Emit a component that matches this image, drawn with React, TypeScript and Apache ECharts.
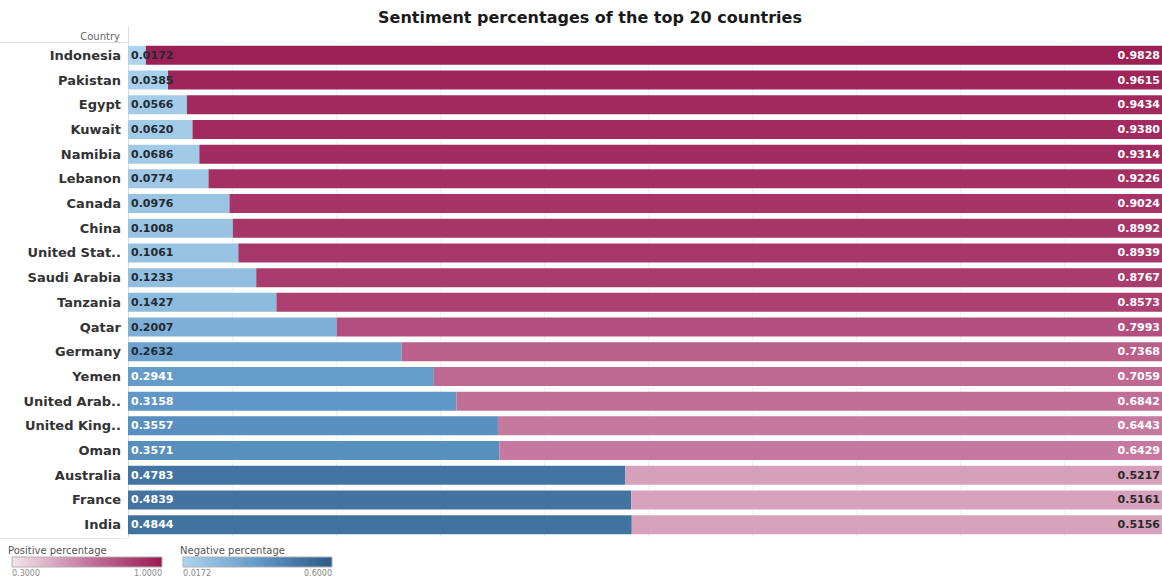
import React, { useEffect, useRef } from "react";
import * as echarts from "echarts";

const countries = [
  "Indonesia", "Pakistan", "Egypt", "Kuwait", "Namibia", "Lebanon", "Canada", "China",
  "United Stat..", "Saudi Arabia", "Tanzania", "Qatar", "Germany", "Yemen",
  "United Arab..", "United King..", "Oman", "Australia", "France", "India",
];
const negative = [
  0.0172, 0.0385, 0.0566, 0.062, 0.0686, 0.0774, 0.0976, 0.1008, 0.1061, 0.1233,
  0.1427, 0.2007, 0.2632, 0.2941, 0.3158, 0.3557, 0.3571, 0.4783, 0.4839, 0.4844,
];
const positive = [
  0.9828, 0.9615, 0.9434, 0.938, 0.9314, 0.9226, 0.9024, 0.8992, 0.8939, 0.8767,
  0.8573, 0.7993, 0.7368, 0.7059, 0.6842, 0.6443, 0.6429, 0.5217, 0.5161, 0.5156,
];
const negRange = [0.0172, 0.6];
const posRange = [0.3, 1.0];
const negColors = ["#aed4ed", "#6299c8", "#2c5a88"];
const posColors = ["#f3e6ec", "#c5779e", "#9a1a52"];

const FONT = "DejaVu Sans";

function colorFor(v: number, range: number[], colors: string[]) {
  const t = Math.max(0, Math.min(1, (v - range[0]) / (range[1] - range[0])));
  return echarts.color.lerp(t, colors) as string;
}

export default function App() {
  const ref = useRef<HTMLDivElement>(null);
  useEffect(() => {
    if (!ref.current) return;
    const chart = echarts.init(ref.current, undefined, { renderer: "svg" });
    const gradient = (colors: string[]) =>
      new echarts.graphic.LinearGradient(
        0, 0, 1, 0,
        colors.map((c, i) => ({ offset: i / (colors.length - 1), color: c }))
      );
    chart.setOption({
      animation: false,
      grid: { left: 128, right: 0, top: 43, height: 494 },
      xAxis: {
        type: "value",
        min: 0,
        max: 1,
        interval: 0.1,
        axisLine: { show: false },
        axisTick: { show: false },
        axisLabel: { show: false },
        splitLine: { show: true, lineStyle: { color: "#eef0f2", width: 1 } },
      },
      yAxis: {
        type: "category",
        data: countries,
        inverse: true,
        axisLine: { show: true, lineStyle: { color: "#dcdcdc", width: 1 } },
        axisTick: { show: false },
        axisLabel: {
          fontFamily: FONT,
          fontSize: 13,
          fontWeight: "bold",
          color: "#333",
          margin: 7,
        },
      },
      series: [
        {
          name: "Negative percentage",
          type: "bar",
          stack: "s",
          barWidth: 19,
          data: negative.map((v) => ({
            value: v,
            itemStyle: { color: colorFor(v, negRange, negColors) },
            label: { color: v >= 0.28 ? "#ffffff" : "#222a33" },
          })),
          label: {
            show: true,
            position: "insideLeft",
            distance: 3,
            fontFamily: FONT,
            fontSize: 11,
            fontWeight: "bold",
            formatter: (p: any) => Number(p.value).toFixed(4),
          },
        },
        {
          name: "Positive percentage",
          type: "bar",
          stack: "s",
          barWidth: 19,
          data: positive.map((v) => ({
            value: v,
            itemStyle: { color: colorFor(v, posRange, posColors) },
            label: { color: v >= 0.6 ? "#ffffff" : "#2a2a2a" },
          })),
          label: {
            show: true,
            position: "insideRight",
            distance: 8,
            fontFamily: FONT,
            fontSize: 11,
            fontWeight: "bold",
            formatter: (p: any) => Number(p.value).toFixed(4),
          },
        },
      ],
      graphic: [
        {
          type: "text",
          x: 590,
          y: 17,
          style: {
            text: "Sentiment percentages of the top 20 countries",
            fontFamily: FONT,
            fontSize: 16,
            fontWeight: "bold",
            fill: "#1a1a1a",
            align: "center",
            verticalAlign: "middle",
          },
        },
        {
          type: "text",
          x: 120,
          y: 36,
          style: {
            text: "Country",
            fontFamily: FONT,
            fontSize: 10,
            fill: "#666",
            align: "right",
            verticalAlign: "middle",
          },
        },
        {
          type: "line",
          shape: { x1: 0, y1: 42.5, x2: 127, y2: 42.5 },
          style: { stroke: "#dcdcdc", lineWidth: 1 },
        },
        {
          type: "line",
          shape: { x1: 128.5, y1: 27, x2: 128.5, y2: 43 },
          style: { stroke: "#dcdcdc", lineWidth: 1 },
        },
        {
          type: "line",
          shape: { x1: 0, y1: 538.5, x2: 127, y2: 538.5 },
          style: { stroke: "#e6e6e6", lineWidth: 1 },
        },
        // Positive legend
        {
          type: "text",
          x: 8,
          y: 550,
          style: {
            text: "Positive percentage",
            fontFamily: FONT,
            fontSize: 10,
            fill: "#555",
            verticalAlign: "middle",
          },
        },
        {
          type: "rect",
          shape: { x: 12, y: 557, width: 150, height: 10 },
          style: { fill: gradient(posColors), stroke: "#b0b0b0", lineWidth: 1 },
        },
        {
          type: "text",
          x: 12,
          y: 573,
          style: {
            text: posRange[0].toFixed(4),
            fontFamily: FONT,
            fontSize: 8,
            fill: "#888",
            verticalAlign: "middle",
          },
        },
        {
          type: "text",
          x: 162,
          y: 573,
          style: {
            text: posRange[1].toFixed(4),
            fontFamily: FONT,
            fontSize: 8,
            fill: "#888",
            align: "right",
            verticalAlign: "middle",
          },
        },
        // Negative legend
        {
          type: "text",
          x: 180,
          y: 550,
          style: {
            text: "Negative percentage",
            fontFamily: FONT,
            fontSize: 10,
            fill: "#555",
            verticalAlign: "middle",
          },
        },
        {
          type: "rect",
          shape: { x: 183, y: 557, width: 149, height: 10 },
          style: { fill: gradient(negColors), stroke: "#b0b0b0", lineWidth: 1 },
        },
        {
          type: "text",
          x: 183,
          y: 573,
          style: {
            text: negRange[0].toFixed(4),
            fontFamily: FONT,
            fontSize: 8,
            fill: "#888",
            verticalAlign: "middle",
          },
        },
        {
          type: "text",
          x: 332,
          y: 573,
          style: {
            text: negRange[1].toFixed(4),
            fontFamily: FONT,
            fontSize: 8,
            fill: "#888",
            align: "right",
            verticalAlign: "middle",
          },
        },
      ],
    });
    return () => chart.dispose();
  }, []);
  return (
    <div
      ref={ref}
      style={{ position: "fixed", left: 0, top: 0, width: "1168px", height: "577px", background: "#fff" }}
    />
  );
}
